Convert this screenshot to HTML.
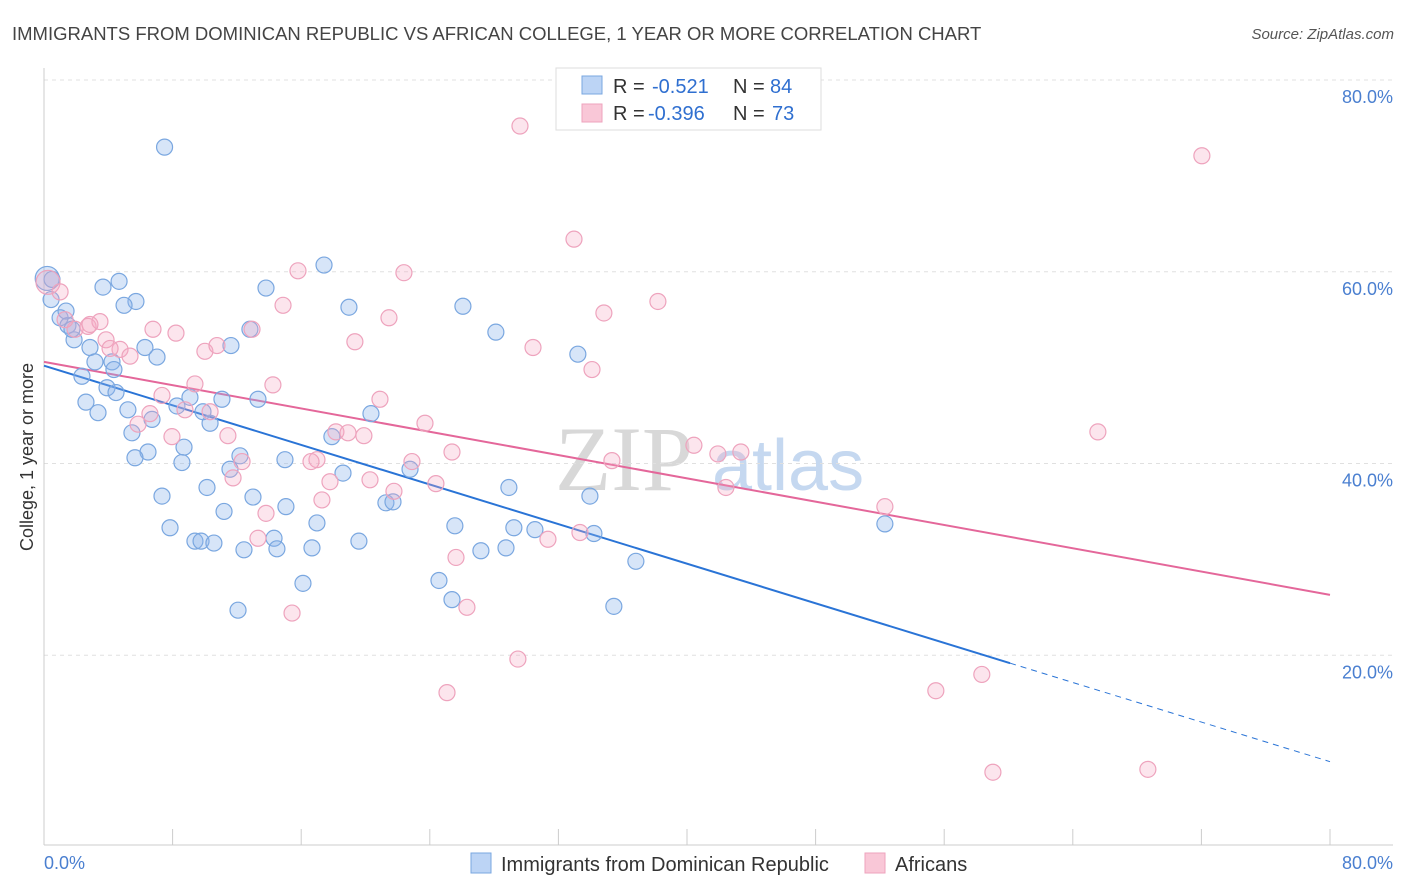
<!DOCTYPE html>
<html><head><meta charset="utf-8"><style>
body{margin:0;background:#fff;font-family:"Liberation Sans",sans-serif;}
#wrap{position:relative;width:1406px;height:892px;overflow:hidden;}
</style></head><body>
<div id="wrap">
<svg id="svg" width="1406" height="892" xmlns="http://www.w3.org/2000/svg">
<text x="12" y="40" font-size="18.5" fill="#444">IMMIGRANTS FROM DOMINICAN REPUBLIC VS AFRICAN COLLEGE, 1 YEAR OR MORE CORRELATION CHART</text>
<text x="1394" y="39" font-size="15" fill="#555" font-style="italic" text-anchor="end">Source: ZipAtlas.com</text>
<text x="555" y="490" font-size="92" fill="#d8d8d8" font-family="Liberation Serif,serif">ZIP</text>
<text x="712" y="490" font-size="72" fill="#c5d8f0">atlas</text>
<text transform="translate(33,457) rotate(-90)" font-size="18" fill="#333" text-anchor="middle">College, 1 year or more</text>
<g id="grid"></g><g id="axes"></g><g id="lines"></g><g id="pts"></g>
<g>
<rect x="556" y="68" width="265" height="62" fill="#fff" stroke="#ddd"/>
<rect x="582" y="76" width="20" height="18" fill="#bcd4f5" stroke="#7aa7e0"/>
<rect x="582" y="104" width="20" height="18" fill="#f9c7d7" stroke="#eea3bd"/>
<text x="613" y="93" font-size="20" fill="#333">R =</text>
<text x="652" y="93" font-size="20" fill="#2f6fd0">-0.521</text>
<text x="733" y="93" font-size="20" fill="#333">N =</text>
<text x="770" y="93" font-size="20" fill="#2f6fd0">84</text>
<text x="613" y="120" font-size="20" fill="#333">R =</text>
<text x="648" y="120" font-size="20" fill="#2f6fd0">-0.396</text>
<text x="733" y="120" font-size="20" fill="#333">N =</text>
<text x="772" y="120" font-size="20" fill="#2f6fd0">73</text>
</g>
<rect x="471" y="853" width="20" height="20" fill="#bcd4f5" stroke="#7aa7e0"/>
<text x="501" y="871" font-size="20" fill="#333">Immigrants from Dominican Republic</text>
<rect x="865" y="853" width="20" height="20" fill="#f9c7d7" stroke="#eea3bd"/>
<text x="895" y="871" font-size="20" fill="#333">Africans</text>
</svg>
</div>
<script>
const yTicks=[20,40,60,80];
const yTickLabels=["20.0%","40.0%","60.0%","80.0%"];
const xTicks=[0,8,16,24,32,40,48,56,64,72,80];
const blueX=[7.5,4.67,3.67,5.72,4.98,0.44,1.0,1.49,1.87,2.86,1.37,6.28,7.03,4.23,3.17,2.36,3.92,4.48,2.61,3.36,5.22,6.72,5.47,6.47,8.27,9.08,10.33,11.07,9.89,11.57,12.19,8.71,8.58,13.31,11.63,12.81,13.81,17.42,18.97,20.34,17.91,18.6,22.77,21.27,21.71,26.06,28.11,33.21,28.92,33.96,7.34,7.84,10.14,11.2,13.0,14.99,15.05,16.98,9.39,9.77,10.57,12.44,14.31,14.49,16.67,19.59,12.07,16.11,24.57,25.38,25.56,27.18,28.74,29.23,30.54,34.21,36.82,35.45,52.31,0.2,0.5,5.66,4.35,1.74];
const blueY=[73.0,59.0,58.4,56.9,56.5,57.1,55.2,54.4,52.9,52.1,55.9,52.1,51.1,50.6,50.6,49.1,47.9,47.4,46.4,45.3,45.6,44.6,43.2,41.2,46.0,46.9,44.2,46.7,45.4,39.4,40.8,41.7,40.1,46.7,52.3,54.0,58.3,60.7,56.3,45.2,42.8,39.0,39.4,35.9,36.0,56.4,53.7,51.4,37.5,36.6,36.6,33.3,37.5,35.0,36.5,40.4,35.5,33.8,31.9,31.9,31.7,31.0,32.2,31.1,31.2,31.9,24.7,27.5,27.8,25.8,33.5,30.9,31.2,33.3,33.1,32.7,29.8,25.1,33.7,59.3,59.2,40.6,49.8,54.0];
const pinkX=[29.61,72.03,32.97,15.8,22.39,14.87,21.46,34.83,38.19,19.34,30.42,34.09,2.74,3.48,1.93,3.86,4.73,5.35,6.78,8.21,10.01,10.76,12.94,9.39,14.24,7.34,6.59,8.77,10.33,11.44,12.32,11.76,7.96,5.85,20.9,23.7,25.38,18.16,18.91,19.9,16.98,16.61,22.89,17.79,17.29,20.28,21.77,24.38,35.33,40.43,41.92,43.35,42.42,65.56,52.31,31.35,33.34,25.63,13.81,13.31,15.43,26.31,29.48,25.07,55.48,58.34,59.03,68.67,0.25,1.0,1.31,4.11,2.86];
const pinkY=[75.2,72.1,63.4,60.1,59.9,56.5,55.2,55.7,56.9,52.7,52.1,49.8,54.3,54.8,54.0,52.9,51.9,51.2,54.0,53.6,51.7,52.3,54.0,48.3,48.2,47.1,45.2,45.6,45.4,42.9,40.2,38.5,42.8,44.1,46.7,44.2,41.2,43.3,43.2,42.9,40.4,40.2,40.2,38.1,36.2,38.3,37.1,37.9,40.3,41.9,41.0,41.2,37.5,43.3,35.5,32.1,32.8,30.2,34.8,32.2,24.4,25.0,19.6,16.1,16.3,18.0,7.8,8.1,58.9,57.9,55.0,52.0,54.5];
const blueTrend=[50.2,8.9]; const blueSolidEnd=60.1;
const pinkTrend=[50.6,26.3];
const NS="http://www.w3.org/2000/svg";
const X=v=>44+v/80*1286, Y=v=>847-v/80*767;
function mk(tag,attrs,parent){const e=document.createElementNS(NS,tag);for(const k in attrs)e.setAttribute(k,attrs[k]);parent.appendChild(e);return e;}
const grid=document.getElementById('grid'),axes=document.getElementById('axes'),lines=document.getElementById('lines'),pts=document.getElementById('pts');
yTicks.forEach((t,i)=>{
 const l=mk('line',{x1:44,x2:1393,y1:Y(t),y2:Y(t),stroke:'#e0e0e0','stroke-dasharray':'4,4'},grid);
 
 
 const tx=mk('text',{x:1393,y:Y(t)+23,'font-size':18,fill:'#4a7fd0','text-anchor':'end'},grid);
 tx.textContent=yTickLabels[i];
 
 
});
const ax=mk('line',{x1:44,x2:44,y1:68,y2:845,stroke:'#ccc'},axes);


const bx=mk('line',{x1:44,x2:1393,y1:845,y2:845,stroke:'#ccc'},axes);


xTicks.forEach(t=>{
 const l=mk('line',{x1:X(t),x2:X(t),y1:829,y2:845,stroke:'#ccc'},axes);
 
 
});
const x0=mk('text',{x:44,y:869,'font-size':18,fill:'#4a7fd0'},axes);x0.textContent='0.0%';


const x1=mk('text',{x:1393,y:869,'font-size':18,fill:'#4a7fd0','text-anchor':'end'},axes);x1.textContent='80.0%';


function drawPts(xs,ys,fill,stroke,name){xs.forEach((x,i)=>{
 const big=(x<0.3);
 const c=mk('circle',{cx:X(x),cy:Y(ys[i]),r:big?12:8,fill:fill,stroke:stroke,'stroke-width':1.2},pts);
 
 
});}
drawPts(blueX,blueY,'rgba(140,180,235,0.35)','#7aa7e0','blue-point');
drawPts(pinkX,pinkY,'rgba(245,170,195,0.3)','#eea3bd','pink-point');
const by=x=>blueTrend[0]+(blueTrend[1]-blueTrend[0])*x/80;
const bl=mk('line',{x1:X(0),y1:Y(by(0)),x2:X(blueSolidEnd),y2:Y(by(blueSolidEnd)),stroke:'#2a74d6','stroke-width':2},lines);


const bd=mk('line',{x1:X(blueSolidEnd),y1:Y(by(blueSolidEnd)),x2:X(80),y2:Y(by(80)),stroke:'#2a74d6','stroke-width':1,'stroke-dasharray':'6,5'},lines);


const pl=mk('line',{x1:X(0),y1:Y(pinkTrend[0]),x2:X(80),y2:Y(pinkTrend[1]),stroke:'#e4679a','stroke-width':2},lines);


</script>
</body></html>
